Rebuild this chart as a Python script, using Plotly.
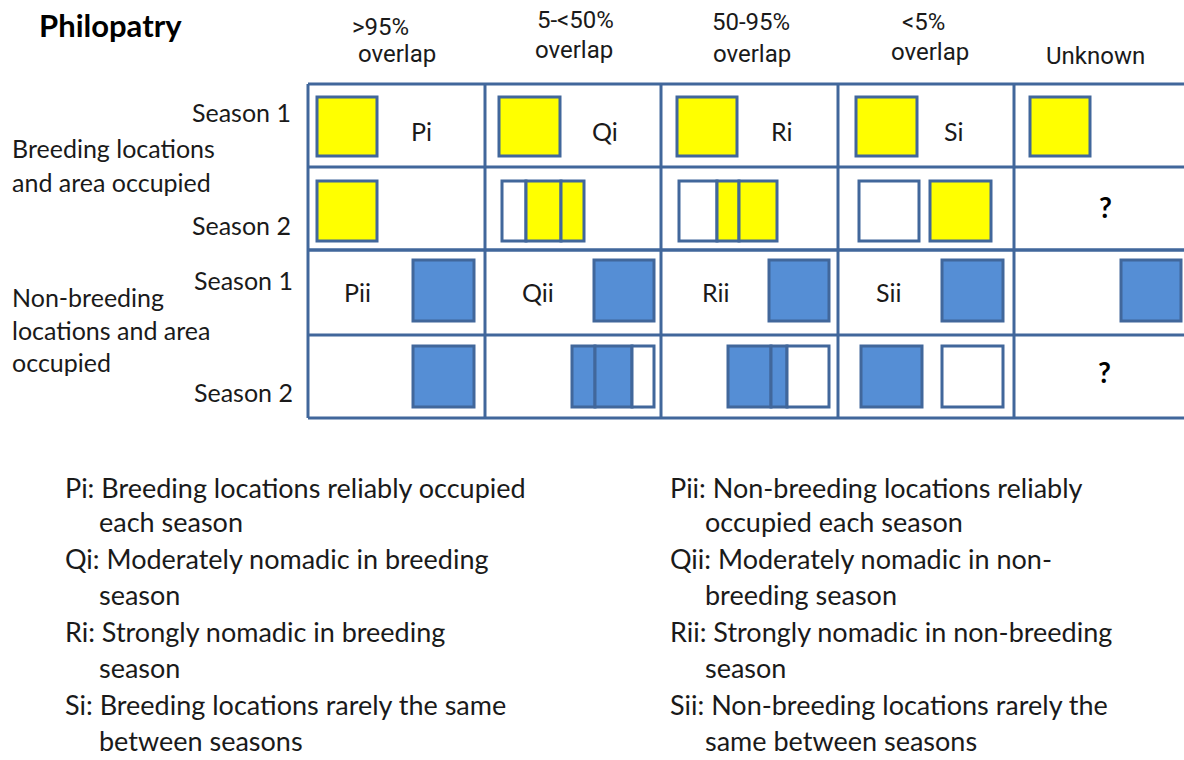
import plotly.graph_objects as go

# ---------------- data ----------------
col_headers_l1 = [">95%", "5-<50%", "50-95%", "<5%", ""]
col_headers_l2 = ["overlap", "overlap", "overlap", "overlap", "Unknown"]
h1_x = [380, 575, 751, 923, 0]
h1_y = [27, 20, 22, 22, 0]
h2_x = [397, 574, 752, 930, 1095]
h2_y = [54, 50, 54, 52, 56]

col_edges = [308, 485, 661, 838, 1014, 1190]
upper_rows = [84, 167, 250]
lower_rows = [250, 335, 418]

breeding_codes = ["Pi", "Qi", "Ri", "Si", ""]
breeding_code_x = [421, 605, 782, 953, 0]
nonbreeding_codes = ["Pii", "Qii", "Rii", "Sii", ""]
nonbreeding_code_x = [357, 538, 716, 888, 0]

# blocks: (x0, x1, y0, y1, fill)  fill: Y=yellow, B=blue, W=white
breed_s1 = [(317, 377, 97, 156, "Y"), (499, 560, 97, 156, "Y"), (677, 737, 97, 156, "Y"),
            (856, 917, 97, 156, "Y"), (1030, 1090, 97, 156, "Y")]
breed_s2 = [(317, 377, 181, 241, "Y"),
            (502, 526, 181, 241, "W"), (526, 561, 181, 241, "Y"), (561, 584, 181, 241, "Y"),
            (679, 717, 181, 241, "W"), (717, 739, 181, 241, "Y"), (739, 777, 181, 241, "Y"),
            (859, 919, 181, 241, "W"), (930, 991, 181, 241, "Y")]
nonbreed_s1 = [(413, 474, 260, 321, "B"), (594, 654, 260, 321, "B"), (769, 829, 260, 321, "B"),
               (942, 1003, 260, 321, "B"), (1121, 1181, 260, 321, "B")]
nonbreed_s2 = [(413, 474, 346, 407, "B"),
               (572, 595, 346, 407, "B"), (595, 632, 346, 407, "B"), (632, 654, 346, 407, "W"),
               (728, 771, 346, 407, "B"), (771, 787, 346, 407, "B"), (787, 829, 346, 407, "W"),
               (861, 922, 346, 407, "B"), (942, 1003, 346, 407, "W")]
unknown_marks = [("?", 1105, 207), ("?", 1104, 372)]

left_labels = [("Season 1", 293, 112, "right"), ("Breeding locations", 10, 148, "left"),
               ("and area occupied", 10, 182, "left"), ("Season 2", 293, 225, "right"),
               ("Season 1", 295, 280, "right"), ("Non-breeding", 10, 297, "left"),
               ("locations and area", 10, 330, "left"), ("occupied", 10, 362, "left"),
               ("Season 2", 295, 392, "right")]

legend_left = ["Pi: Breeding locations reliably occupied", "   each season",
               "Qi: Moderately nomadic in breeding", "   season",
               "Ri: Strongly nomadic in breeding", "   season",
               "Si: Breeding locations rarely the same", "   between seasons"]
legend_right = ["Pii: Non-breeding locations reliably", "   occupied each season",
                "Qii: Moderately nomadic in non-", "   breeding season",
                "Rii: Strongly nomadic in non-breeding", "   season",
                "Sii: Non-breeding locations rarely the", "   same between seasons"]
legend_y = [487, 521, 558, 594, 631, 667, 704, 740]

# ---------------- styles ----------------
FILL = {"Y": "#FFFF00", "B": "#558ED5", "W": "#FFFFFF"}
LINE = "#41679B"
FONT = "Lato, Open Sans, sans-serif"
NARROW = "Liberation Sans Narrow, Roboto, sans-serif"
TXT = "#1a1a1a"

fig = go.Figure()
shapes = []
annotations = []

# grid
for rows in (upper_rows, lower_rows):
    for y in rows:
        shapes.append(dict(type="line", xref="x", yref="y", x0=col_edges[0], x1=col_edges[-1],
                           y0=y, y1=y, line=dict(color=LINE, width=3)))
    for x in col_edges:
        shapes.append(dict(type="line", xref="x", yref="y", x0=x, x1=x,
                           y0=rows[0], y1=rows[-1], line=dict(color=LINE, width=3)))

for blocks in (breed_s1, breed_s2, nonbreed_s1, nonbreed_s2):
    for x0, x1, y0, y1, f in blocks:
        shapes.append(dict(type="rect", xref="x", yref="y", x0=x0, x1=x1, y0=y0, y1=y1,
                           fillcolor=FILL[f], line=dict(color=LINE, width=3)))

# headers
for t1, x1, y1, t2, x2, y2 in zip(col_headers_l1, h1_x, h1_y, col_headers_l2, h2_x, h2_y):
    if t1:
        annotations.append(dict(text=t1, x=x1, y=y1, xref="x", yref="y", showarrow=False,
                                xanchor="center", yanchor="middle",
                                font=dict(family=NARROW, size=24, color=TXT)))
    annotations.append(dict(text=t2, x=x2, y=y2, xref="x", yref="y",
                            showarrow=False, xanchor="center", yanchor="middle",
                            font=dict(family=NARROW, size=24, color=TXT)))

annotations.append(dict(text="<b>Philopatry</b>", x=37, y=25, xref="x", yref="y", showarrow=False,
                        xanchor="left", yanchor="middle", font=dict(family=FONT, size=31, color="#000")))

for t, x, y, a in left_labels:
    annotations.append(dict(text=t, x=x, y=y, xref="x", yref="y", showarrow=False,
                            xanchor=a, yanchor="middle", font=dict(family=FONT, size=25, color=TXT)))

for t, x in zip(breeding_codes, breeding_code_x):
    if t:
        annotations.append(dict(text=t, x=x, y=131, xref="x", yref="y", showarrow=False,
                                xanchor="center", yanchor="middle",
                                font=dict(family=FONT, size=25, color=TXT)))
for t, x in zip(nonbreeding_codes, nonbreeding_code_x):
    if t:
        annotations.append(dict(text=t, x=x, y=292, xref="x", yref="y", showarrow=False,
                                xanchor="center", yanchor="middle",
                                font=dict(family=FONT, size=25, color=TXT)))
for t, x, y in unknown_marks:
    annotations.append(dict(text="<b>" + t + "</b>", x=x, y=y, xref="x", yref="y", showarrow=False,
                            xanchor="center", yanchor="middle",
                            font=dict(family=FONT, size=28, color="#000")))

for lines, x0, xi in ((legend_left, 63, 97), (legend_right, 668, 703)):
    for t, y in zip(lines, legend_y):
        indent = t.startswith("   ")
        annotations.append(dict(text=t.strip(), x=xi if indent else x0, y=y, xref="x", yref="y",
                                showarrow=False, xanchor="left", yanchor="middle",
                                font=dict(family=FONT, size=27, color=TXT)))

fig.update_layout(
    width=1184, height=760,
    margin=dict(l=0, r=0, t=0, b=0),
    paper_bgcolor="white", plot_bgcolor="white",
    xaxis=dict(range=[0, 1184], visible=False, fixedrange=True),
    yaxis=dict(range=[760, 0], visible=False, fixedrange=True),
    shapes=shapes, annotations=annotations, showlegend=False,
)
fig.write_html("out.html", config={"displayModeBar": False},
               post_script="document.body.style.margin='0';document.body.style.overflow='hidden';")
